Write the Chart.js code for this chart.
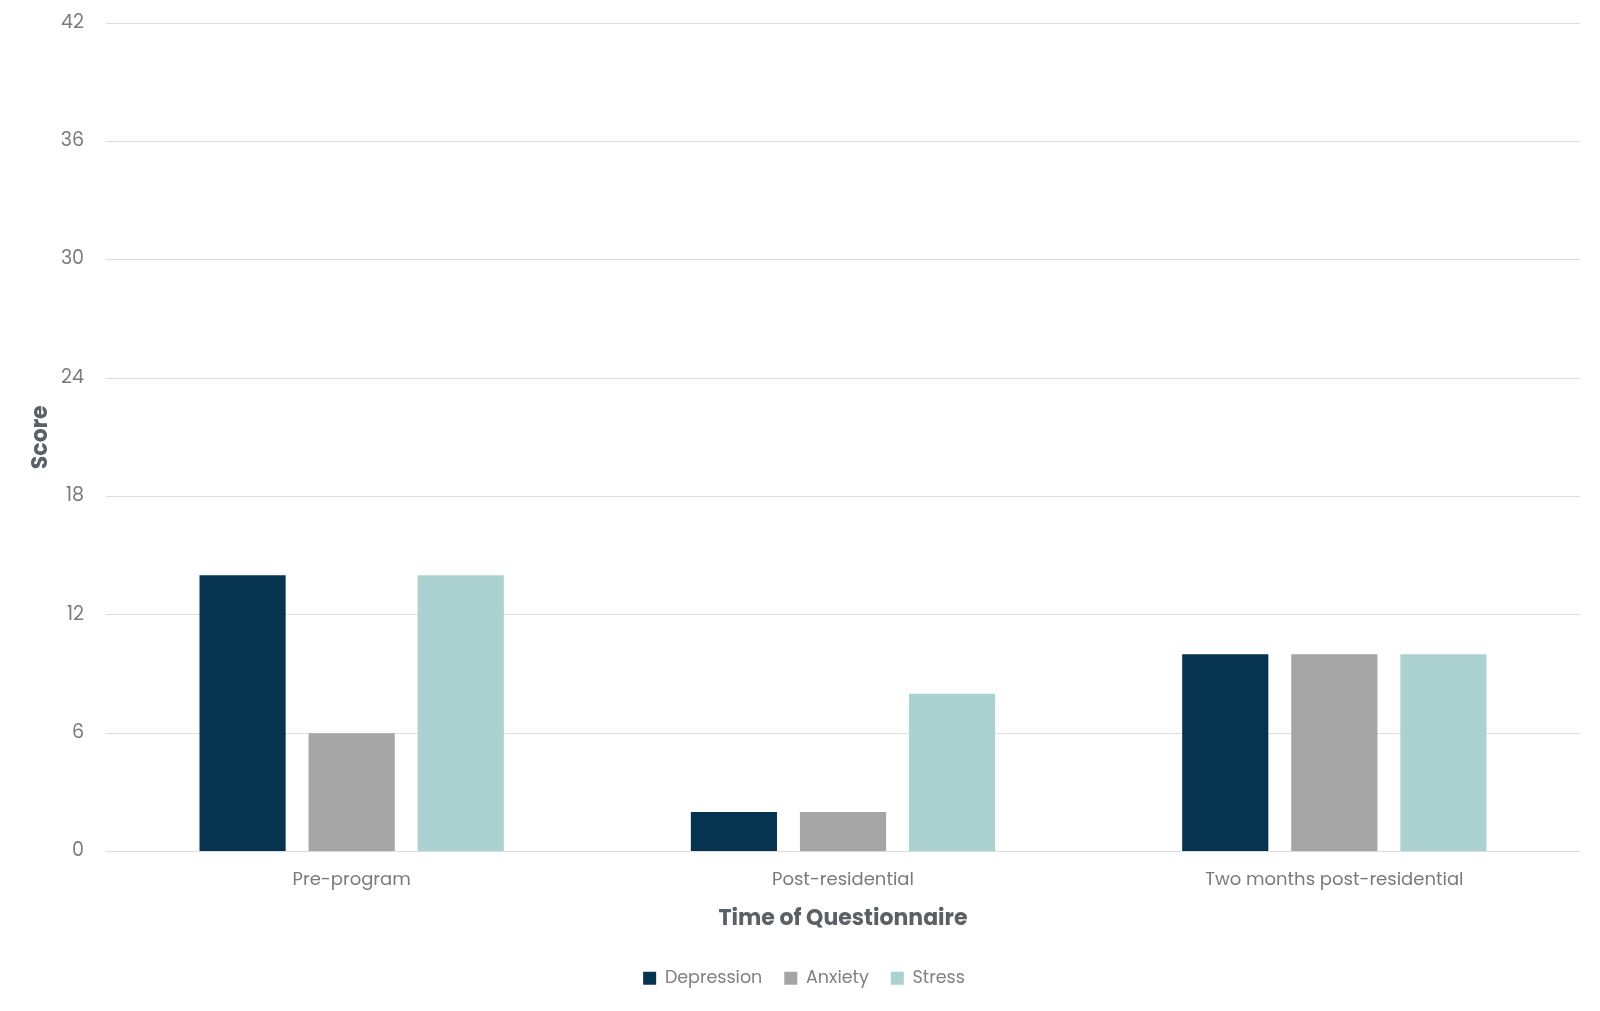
<!DOCTYPE html>
<html>
<head>
<meta charset="utf-8">
<script src="https://cdn.jsdelivr.net/npm/chart.js@4"></script>
<style>
  html, body { margin: 0; padding: 0; background: #fff; }
  #wrap { width: 1600px; height: 1011px; }
</style>
</head>
<body>
<div id="wrap"><canvas id="scores"></canvas></div>
<script>
// categories and series
const times = ["Pre-program", "Post-residential", "Two months post-residential"];
const depression = [14, 2, 10];
const anxiety = [6, 2, 10];
const stress = [14, 8, 10];
const yTicks = [0, 6, 12, 18, 24, 30, 36, 42];

const font = "Poppins, Lato, 'Open Sans', sans-serif";

new Chart(document.getElementById("scores"), {
  type: "bar",
  data: {
    labels: times,
    datasets: [
      { label: "Depression", data: depression, backgroundColor: "#06334f" },
      { label: "Anxiety", data: anxiety, backgroundColor: "#a5a5a5" },
      { label: "Stress", data: stress, backgroundColor: "#abd1d1" }
    ]
  },
  options: {
    responsive: true,
    maintainAspectRatio: false,
    animation: false,
    categoryPercentage: 0.666,
    barPercentage: 0.79,
    layout: { padding: { left: 28, right: 20, top: 23, bottom: 14 } },
    plugins: {
      tooltip: { enabled: false },
      legend: {
        position: "bottom",
        labels: {
          boxWidth: 13, boxHeight: 13, padding: 22,
          color: "#808080",
          font: { family: font, size: 17.5 }
        }
      }
    },
    scales: {
      x: {
        grid: { display: false },
        border: { color: "#dddddd" },
        ticks: { color: "#7a7a7a", padding: 10, font: { family: font, size: 18 } },
        title: {
          display: true, text: "Time of Questionnaire", color: "#5a6166",
          padding: { top: 5, bottom: 15 },
          font: { family: font, size: 22, weight: "bold" }
        }
      },
      y: {
        min: 0, max: 42,
        afterBuildTicks: function(axis) {
          axis.ticks = yTicks.map(v => ({ value: v }));
        },
        // fixed width and top so the plot sits where the reference does
        afterFit: function(axis) {
          axis.width = 78;
          axis.paddingTop = 0;
        },
        grid: { color: "#dddddd", drawTicks: false },
        border: { display: false },
        ticks: { color: "#7a7a7a", padding: 22, font: { family: font, size: 19 } },
        title: {
          display: true, text: "Score", color: "#5a6166",
          padding: { top: 0, bottom: 0 },
          font: { family: font, size: 22, weight: "bold" }
        }
      }
    }
  }
});
</script>
</body>
</html>
